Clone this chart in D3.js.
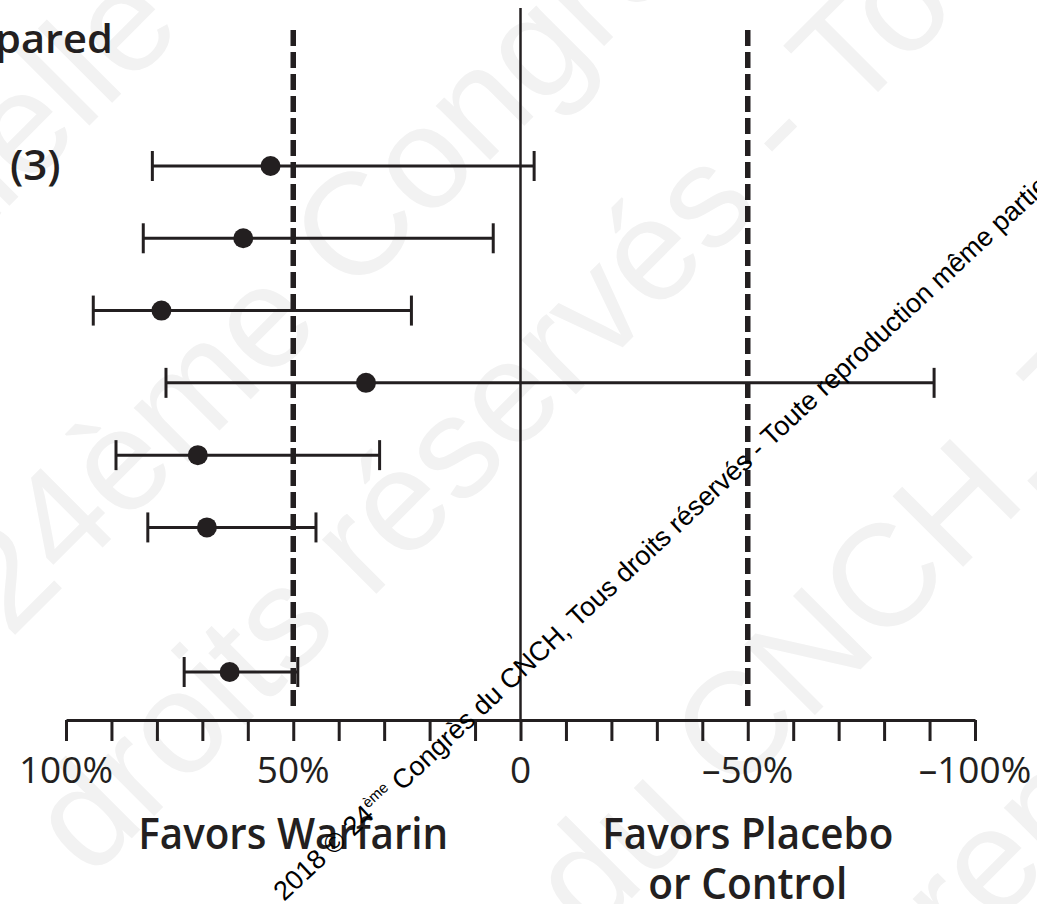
<!DOCTYPE html>
<html>
<head>
<meta charset="utf-8">
<script src="https://cdn.jsdelivr.net/npm/d3@7"></script>
<style>
    body { margin: 0; background: #fff; }
    svg { display: block; }
</style>
</head>
<body>
<div id="chart"></div>
<script>
// Row order (slot 6 is left empty before the pooled row)
const rowSlot = [0, 1, 2, 3, 4, 5, 7];
const rowLabels = ["(3)", "", "", "", "", "", ""];
// Relative risk reduction (%) and 95% CI
const estimate = [55, 61, 79, 34, 71, 69, 64];
const ciHigh = [81, 83, 94, 78, 89, 82, 74];
const ciLow = [-3, 6, 24, -91, 31, 45, 49];

const tickValues = d3.range(-100, 101, 10);
const tickLabelValues = [100, 50, 0, -50, -100];
const refLines = [50, -50];
const sideLabels = [
    {value: 50, lines: ["Favors Warfarin"]},
    {value: -50, lines: ["Favors Placebo", "or Control"]}
];

const ink = "#231f20";

class ForestChart {
    constructor(parentElement) {
        this.parentElement = parentElement;
        this.width = 1037;
        this.height = 904;
        this.initVis();
    }

    initVis() {
        let vis = this;

        vis.svg = d3.select("#" + vis.parentElement)
            .append("svg")
            .attr("width", vis.width)
            .attr("height", vis.height);

        // x runs from +100% on the left to -100% on the right
        vis.x = d3.scaleLinear().domain([100, -100]).range([66, 975]);
        vis.y = d3.scaleLinear().domain([0, 7]).range([166, 672]);
        vis.axisY = 720;

        vis.drawWatermark();
        vis.drawAxis();
        vis.drawLines();
        vis.drawRows();
        vis.drawText();
        vis.drawStamp();
    }

    drawWatermark() {
        let vis = this;
        // big light grey diagonal watermark behind everything
        const marks = [
            {t: "même partielle", x: 185, y: 30, anchor: "end"},
            {t: "24ème Congrès du CNCH", x: 10, y: 640, anchor: "start"},
            {t: "droits réservés - Toute", x: 90, y: 880, anchor: "start"},
            {t: "du CNCH, Tous", x: 590, y: 940, anchor: "start"},
            {t: "reproduction", x: 960, y: 960, anchor: "start"}
        ];
        vis.svg.append("g")
            .selectAll("text")
            .data(marks)
            .join("text")
            .attr("transform", d => `translate(${d.x},${d.y}) rotate(-45)`)
            .attr("text-anchor", d => d.anchor)
            .attr("font-family", "Liberation Sans, Arial, sans-serif")
            .attr("font-size", 145)
            .attr("fill", "#f2f2f2")
            .text(d => d.t);
    }

    drawAxis() {
        let vis = this;

        const axis = d3.axisBottom(vis.x)
            .tickValues(tickValues)
            .tickSize(21)
            .tickSizeOuter(0)
            .tickFormat("");

        const g = vis.svg.append("g")
            .attr("transform", `translate(0,${vis.axisY})`)
            .call(axis);
        g.select(".domain").attr("stroke", ink).attr("stroke-width", 3);
        g.selectAll(".tick line").attr("stroke", ink).attr("stroke-width", 3);

        vis.svg.append("g")
            .selectAll("text")
            .data(tickLabelValues)
            .join("text")
            .attr("x", d => vis.x(d))
            .attr("y", 783)
            .attr("text-anchor", "middle")
            .attr("font-family", "Open Sans, sans-serif")
            .attr("font-size", 37)
            .attr("fill", ink)
            .text(d => d === 0 ? "0" : (d < 0 ? "\u2013" + Math.abs(d) : d) + "%");
    }

    drawLines() {
        let vis = this;

        // no-effect line
        vis.svg.append("line")
            .attr("x1", vis.x(0)).attr("x2", vis.x(0))
            .attr("y1", 8).attr("y2", vis.axisY)
            .attr("stroke", ink)
            .attr("stroke-width", 2.5);

        // +/-50% reference lines
        vis.svg.selectAll(".ref")
            .data(refLines)
            .join("line")
            .attr("class", "ref")
            .attr("x1", d => vis.x(d)).attr("x2", d => vis.x(d))
            .attr("y1", 30).attr("y2", 712)
            .attr("stroke", ink)
            .attr("stroke-width", 5.5)
            .attr("stroke-dasharray", "16,6");
    }

    drawRows() {
        let vis = this;

        const rows = estimate.map((e, i) => ({
            slot: rowSlot[i], est: e, hi: ciHigh[i], lo: ciLow[i]
        }));

        const g = vis.svg.append("g")
            .selectAll("g")
            .data(rows)
            .join("g")
            .attr("transform", d => `translate(0,${vis.y(d.slot)})`);

        g.append("line")
            .attr("x1", d => vis.x(d.hi))
            .attr("x2", d => vis.x(d.lo))
            .attr("stroke", ink)
            .attr("stroke-width", 3);

        g.selectAll(".cap")
            .data(d => [d.hi, d.lo])
            .join("line")
            .attr("class", "cap")
            .attr("x1", d => vis.x(d)).attr("x2", d => vis.x(d))
            .attr("y1", -15).attr("y2", 15)
            .attr("stroke", ink)
            .attr("stroke-width", 3);

        g.append("circle")
            .attr("cx", d => vis.x(d.est))
            .attr("r", 10)
            .attr("fill", ink);
    }

    drawText() {
        let vis = this;

        // header cut off at the left edge
        vis.svg.append("text")
            .attr("x", 113)
            .attr("y", 53)
            .attr("text-anchor", "end")
            .attr("font-family", "Open Sans, sans-serif")
            .attr("font-weight", 600)
            .attr("font-size", 40)
            .attr("fill", ink)
            .attr("textLength", 118)
            .attr("lengthAdjust", "spacingAndGlyphs")
            .text("pared");

        vis.svg.append("g")
            .selectAll("text")
            .data(rowLabels.map((t, i) => ({t: t, slot: rowSlot[i]})).filter(d => d.t))
            .join("text")
            .attr("x", 10)
            .attr("y", d => vis.y(d.slot) + 14)
            .attr("font-family", "Open Sans, sans-serif")
            .attr("font-weight", 600)
            .attr("font-size", 42)
            .attr("fill", ink)
            .text(d => d.t);

        const widths = {"Favors Warfarin": 310, "Favors Placebo": 291, "or Control": 199};
        sideLabels.forEach(s => {
            s.lines.forEach((line, i) => {
                vis.svg.append("text")
                    .attr("x", vis.x(s.value))
                    .attr("y", 849 + i * 50)
                    .attr("text-anchor", "middle")
                    .attr("font-family", "Open Sans, sans-serif")
                    .attr("font-weight", 600)
                    .attr("font-size", 44)
                    .attr("fill", ink)
                    .attr("textLength", widths[line])
                    .attr("lengthAdjust", "spacingAndGlyphs")
                    .text(line);
            });
        });
    }

    drawStamp() {
        let vis = this;
        // small black copyright line across the chart
        const t = vis.svg.append("text")
            .attr("transform", "translate(284,902) rotate(-43)")
            .attr("font-family", "Liberation Sans, Arial, sans-serif")
            .attr("font-size", 27)
            .attr("fill", "#000");
        t.append("tspan").text("2018 © 24");
        t.append("tspan").attr("font-size", 15).attr("dy", -11).text("ème");
        t.append("tspan").attr("dy", 11).text(" Congrès du CNCH, Tous droits réservés - Toute reproduction même partielle interdite");
    }
}

new ForestChart("chart");
</script>
</body>
</html>
